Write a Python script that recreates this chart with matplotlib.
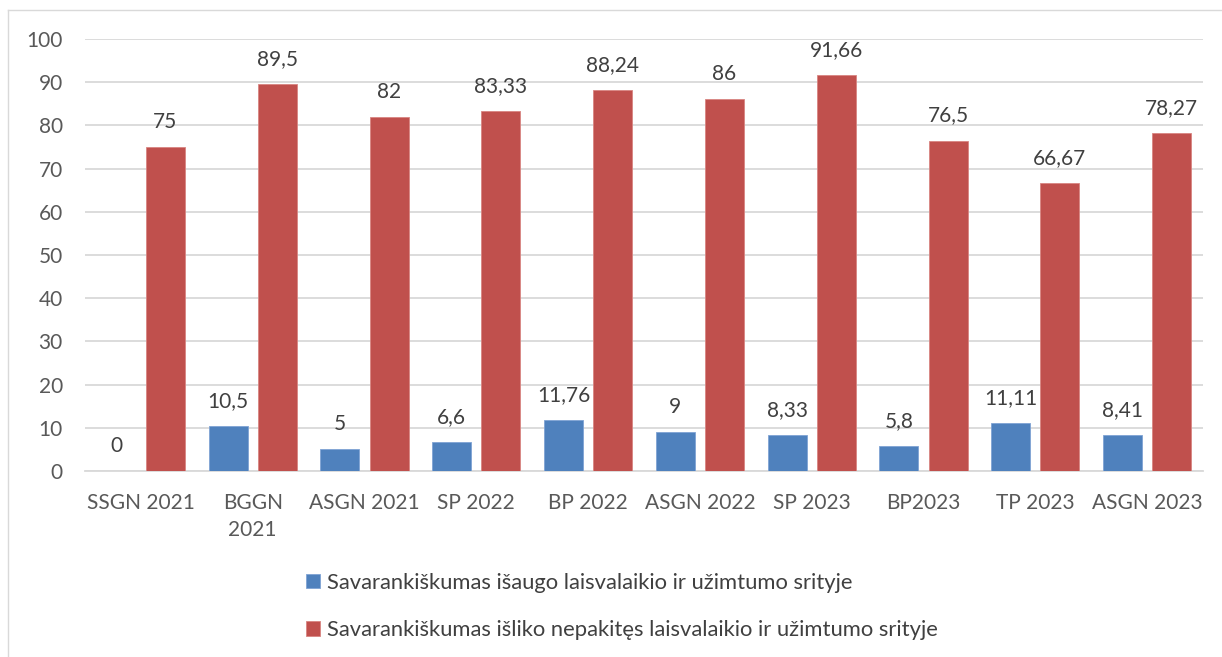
import matplotlib
matplotlib.use("Agg")
import matplotlib.pyplot as plt
import numpy as np
from matplotlib.lines import Line2D

categories = ["SSGN 2021", "BGGN\n2021", "ASGN 2021", "SP 2022", "BP 2022",
              "ASGN 2022", "SP 2023", "BP2023", "TP 2023", "ASGN 2023"]
increased = [0, 10.5, 5, 6.6, 11.76, 9, 8.33, 5.8, 11.11, 8.41]
unchanged = [75, 89.5, 82, 83.33, 88.24, 86, 91.66, 76.5, 66.67, 78.27]
series_names = ["Savarankiškumas išaugo laisvalaikio ir užimtumo srityje",
                "Savarankiškumas išliko nepakitęs laisvalaikio ir užimtumo srityje"]
yticks = list(range(0, 101, 10))

BLUE = "#4F81BD"
RED = "#C0504D"
TXT = "#404040"
TICK = "#595959"

plt.rcParams['font.family'] = ['Lato', 'DejaVu Sans']

W, H = 1222, 657
fig = plt.figure(figsize=(W / 100, H / 100), dpi=100)
ax = fig.add_axes([85 / W, 1 - 471 / H, (1203 - 85) / W, (471 - 39) / H])

x = np.arange(len(categories))
bw = 0.35
off = 0.22
FS = 15


def fmt(v):
    s = ("%.2f" % v).rstrip("0").rstrip(".")
    return s.replace(".", ",")


ax.bar(x - off, increased, bw, color=BLUE, edgecolor="#7fa3d4", linewidth=0.6,
       label=series_names[0], zorder=3)
ax.bar(x + off, unchanged, bw, color=RED, edgecolor="#d88582", linewidth=0.6,
       label=series_names[1], zorder=3)

for xi, v in zip(x - off, increased):
    ax.annotate(fmt(v), (xi, v), xytext=(0, 18), textcoords="offset points",
                ha="center", va="center", fontsize=FS, color=TXT)
for xi, v in zip(x + off, unchanged):
    ax.annotate(fmt(v), (xi, v), xytext=(0, 18), textcoords="offset points",
                ha="center", va="center", fontsize=FS, color=TXT)

ax.set_xlim(-0.5, len(categories) - 0.5)
ax.set_ylim(0, 100)
ax.set_yticks(yticks)
ax.set_yticklabels([str(t) for t in yticks], fontsize=FS, color=TICK)
ax.set_xticks(x)
ax.set_xticklabels(categories, fontsize=FS, color=TICK, linespacing=1.4)
ax.tick_params(axis='y', length=0, pad=16)
ax.tick_params(axis='x', length=0, pad=16)
ax.grid(axis='y', color="#d9d9d9", linewidth=1.3, zorder=0)
ax.set_axisbelow(True)
for s in ["top", "right", "left"]:
    ax.spines[s].set_visible(False)
ax.spines["bottom"].set_color("#d9d9d9")
ax.spines["bottom"].set_linewidth(1.3)

fig.legend(loc="upper left", bbox_to_anchor=(286 / W, 1 - 553 / H), ncol=1,
           frameon=False, fontsize=15.8, handlelength=0.66, handleheight=0.66,
           handletextpad=0.3, labelspacing=1.25, labelcolor=TXT)

# outer chart frame (top and left visible)
fig.add_artist(Line2D([8 / W, 8 / W], [0, 1 - 10 / H], transform=fig.transFigure,
                      color="#d9d9d9", linewidth=1))
fig.add_artist(Line2D([8 / W, 1], [1 - 10 / H, 1 - 10 / H], transform=fig.transFigure,
                      color="#d9d9d9", linewidth=1))

fig.savefig("out.png", dpi=100)
